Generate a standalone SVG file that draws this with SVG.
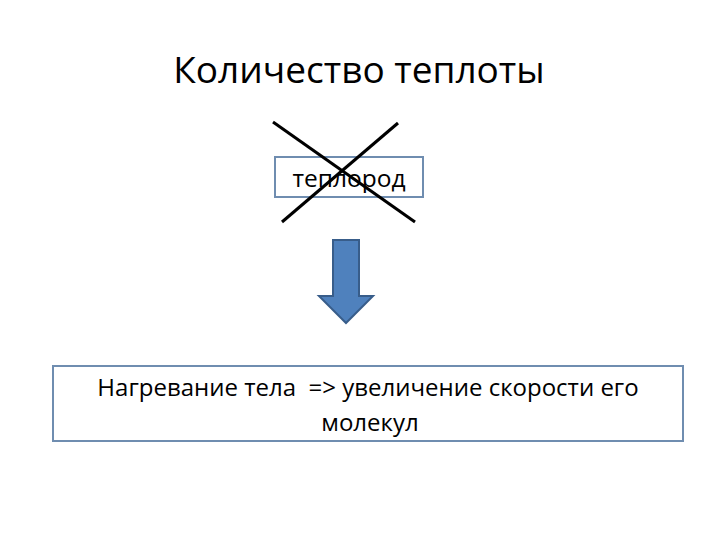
<svg xmlns="http://www.w3.org/2000/svg" width="720" height="540" viewBox="0 0 720 540">
<style>
.t{font-family:"Open Sans","Liberation Sans",sans-serif;fill:#000;text-anchor:middle;white-space:pre}
.box{fill:#fff;stroke:#6f8db0;stroke-width:2}
.x{stroke:#000;stroke-width:3}
</style>
<rect width="720" height="540" fill="#fff"/>
<text class="t" x="359" y="83" font-size="37">Количество теплоты</text>
<g id="teplorod">
<rect class="box" x="275" y="157" width="148" height="40"/>
<text class="t" x="349" y="187" font-size="24.5">теплород</text>
</g>
<g id="cross">
<line class="x" x1="273" y1="122" x2="415" y2="222"/>
<line class="x" x1="398" y1="123" x2="282" y2="222"/>
</g>
<g id="connectors">
<path d="M333,240 H359 V296 H373 L346,323 L319,296 H333 Z" fill="#4f81bd" stroke="#385d8a" stroke-width="2"/>
</g>
<g id="result">
<rect class="box" x="53" y="366" width="630" height="75"/>
<text class="t" x="368" y="396" font-size="24" xml:space="preserve">Нагревание тела  =&gt; увеличение скорости его</text>
<text class="t" x="370" y="431" font-size="24">молекул</text>
</g>
</svg>
